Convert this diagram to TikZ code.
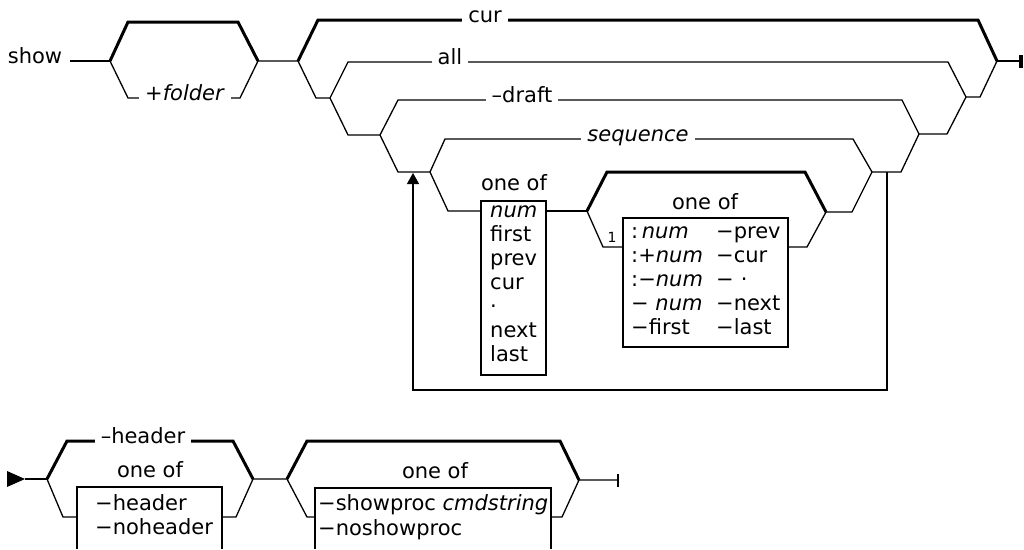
\documentclass[tikz,border=0pt]{standalone}
\usepackage{fontspec}
\setmainfont{DejaVu Sans}
\usetikzlibrary{arrows.meta}
\begin{document}
\begin{tikzpicture}[x=1pt,y=-1pt,
  thinl/.style={line width=1.3pt},
  thickl/.style={line width=3pt},
  txt/.style={inner sep=0pt,font=\fontsize{21}{24}\selectfont},
  lbl/.style={txt,fill=white,inner xsep=6pt,inner ysep=2pt,anchor=mid},
  row/.style={txt,anchor=mid west},
  hdr/.style={txt,anchor=mid},
  boxl/.style={line width=1.3pt}]
\useasboundingbox (0,0) rectangle (1024,549);
% ---------------- top row coordinates
\coordinate (m0) at (70,61);
\coordinate (A0) at (110,61); \coordinate (A1) at (128,22); \coordinate (A2) at (238,22);
\coordinate (A3) at (258,61); \coordinate (A4) at (128,98); \coordinate (A5) at (240,98);
\coordinate (B0) at (298,61); \coordinate (B1) at (318,20); \coordinate (B2) at (978,20);
\coordinate (B3) at (997,61); \coordinate (B4) at (316,98); \coordinate (B5) at (980,97);
\coordinate (C0) at (330,98); \coordinate (C1) at (348,62); \coordinate (C2) at (948,62);
\coordinate (C3) at (966,97); \coordinate (C4) at (348,135); \coordinate (C5) at (947,134);
\coordinate (D0) at (380,135); \coordinate (D1) at (398,100); \coordinate (D2) at (902,100);
\coordinate (D3) at (919,134); \coordinate (D4) at (398,172); \coordinate (D5) at (901,172);
\coordinate (E0) at (430,172); \coordinate (E1) at (445,139); \coordinate (E2) at (853,139);
\coordinate (E3) at (872,172); \coordinate (E4) at (448,211); \coordinate (E5) at (852,212);
\coordinate (F0) at (587,211); \coordinate (F1) at (607,172); \coordinate (F2) at (805,172);
\coordinate (F3) at (826,212); \coordinate (F4) at (603,247); \coordinate (F5) at (807,247);
\coordinate (K1a) at (481,201); \coordinate (K1b) at (546,375);
\coordinate (K2a) at (623,218); \coordinate (K2b) at (788,347);
\coordinate (L1) at (887,172); \coordinate (L2) at (887,390);
\coordinate (L3) at (413,390); \coordinate (L4) at (413,173);
\coordinate (T0) at (1019,61); \coordinate (Ta) at (1021,55); \coordinate (Tb) at (1021,68);
% ---------------- top row lines
\draw[thinl] (m0) -- (A0);
\draw[thickl] (A0) -- (A1) -- (A2) -- (A3);
\draw[thinl] (A0) -- (A4) -- (A5) -- (A3) -- (B0);
\draw[thickl] (B0) -- (B1) -- (B2) -- (B3);
\draw[thinl] (B0) -- (B4) -- (C0);
\draw[thinl] (C0) -- (C1) -- (C2) -- (C3) -- (B5) -- (B3);
\draw[thinl] (C0) -- (C4) -- (D0);
\draw[thinl] (D0) -- (D1) -- (D2) -- (D3) -- (C5) -- (C3);
\draw[thinl] (D0) -- (D4) -- (E0);
\draw[thinl] (E0) -- (E1) -- (E2) -- (E3) -- (D5) -- (D3);
\draw[thinl] (E0) -- (E4) -- (K1a |- E4);
\draw[boxl] (K1a) rectangle (K1b);
\draw[thinl] (K1b |- E4) -- (F0);
\draw[thickl] (F0) -- (F1) -- (F2) -- (F3);
\draw[thinl] (F0) -- (F4) -- (K2a |- F4);
\draw[boxl] (K2a) rectangle (K2b);
\draw[thinl] (K2b |- F5) -- (F5) -- (F3) -- (E5) -- (E3);
\draw[thinl,-{Triangle[length=11pt,width=12pt]}] (L1) -- (L2) -- (L3) -- (L4);
\draw[thinl] (B3) -- (T0);
\draw[line width=3.5pt] (Ta) -- (Tb);
% ---------------- top row texts
\node[txt,anchor=mid] (show) at (35,61) {show};
\node[lbl] (folder) at (185,98) {+\textit{folder}};
\node[lbl] (cur) at (485,20) {cur};
\node[lbl] (all) at (450,62) {all};
\node[lbl] (draft) at (522,100) {–draft};
\node[lbl] (seq) at (638,139) {\textit{sequence}};
\node[hdr] (h1) at (514,188) {one of};
\node[hdr] (h2) at (705,207) {one of};
\node[txt,anchor=mid,font=\fontsize{14}{14}\selectfont] (one) at (612,240) {1};
\node[row] (b1a) at (490,215) {\textit{num}};
\node[row] (b1b) at (490,239) {first};
\node[row] (b1c) at (490,263) {prev};
\node[row] (b1d) at (490,287) {cur};
\node[row] (b1e) at (490,311) {·};
\node[row] (b1f) at (490,335) {next};
\node[row] (b1g) at (490,359) {last};
\node[row] (b2a) at (631,236) {:\,\textit{num}};
\node[row] (b2b) at (631,260) {:+\textit{num}};
\node[row] (b2c) at (631,284) {:−\textit{num}};
\node[row] (b2d) at (631,308) {− \textit{num}};
\node[row] (b2e) at (631,332) {−first};
\node[row] (b2f) at (716,236) {−prev};
\node[row] (b2g) at (716,260) {−cur};
\node[row] (b2h) at (716,284) {−\,\,·};
\node[row] (b2i) at (716,308) {−next};
\node[row] (b2j) at (716,332) {−last};
% ---------------- bottom row
\coordinate (S0) at (25,479);
\coordinate (G0) at (47,479); \coordinate (G1) at (67,441); \coordinate (G2) at (233,441);
\coordinate (G3) at (253,479); \coordinate (G4) at (63,517); \coordinate (G5) at (236,517);
\coordinate (H0) at (287,479); \coordinate (H1) at (307,441); \coordinate (H2) at (560,441);
\coordinate (H3) at (579,480); \coordinate (H4) at (307,517); \coordinate (H5) at (562,517);
\coordinate (K3a) at (77,487); \coordinate (K3b) at (222,549);
\coordinate (K4a) at (315,488); \coordinate (K4b) at (551,549);
\coordinate (Z0) at (618,480); \coordinate (Za) at (618,474); \coordinate (Zb) at (618,487);
\fill (7,471) -- (S0) -- (7,487) -- cycle;
\draw[thinl] (S0) -- (G0);
\draw[thickl] (G0) -- (G1) -- (G2) -- (G3);
\draw[thinl] (G0) -- (G4) -- (K3a |- G4);
\draw[boxl] (K3a |- K3b) -- (K3a) -- (K3b |- K3a) -- (K3b);
\draw[thinl] (K3b |- G5) -- (G5) -- (G3) -- (H0);
\draw[thickl] (H0) -- (H1) -- (H2) -- (H3);
\draw[thinl] (H0) -- (H4) -- (K4a |- H4);
\draw[boxl] (K4a |- K4b) -- (K4a) -- (K4b |- K4a) -- (K4b);
\draw[thinl] (K4b |- H5) -- (H5) -- (H3) -- (Z0);
\draw[thinl] (Za) -- (Zb);
\node[lbl] (hdrl) at (143,441) {–header};
\node[hdr] (h3) at (150,475) {one of};
\node[hdr] (h4) at (435,476) {one of};
\node[row] (b3a) at (95,508) {−header};
\node[row] (b3b) at (95,532) {−noheader};
\node[row] (b4a) at (318,508) {−showproc \textit{cmdstring}};
\node[row] (b4b) at (318,533) {−noshowproc};
\end{tikzpicture}
\end{document}
